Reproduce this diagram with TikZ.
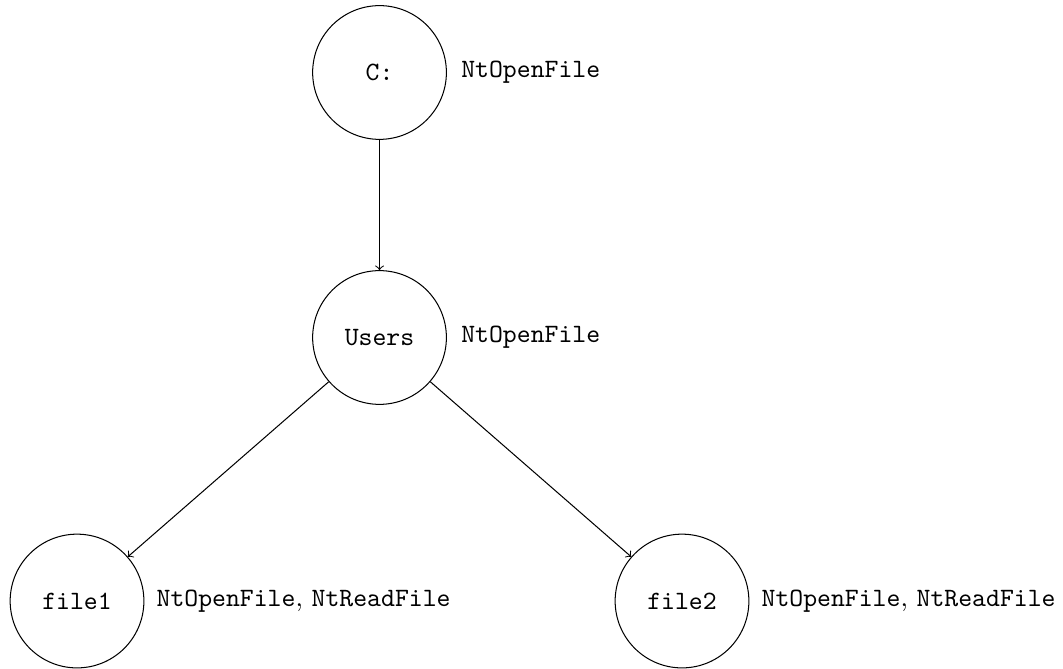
\documentclass[tikz,border=0pt]{standalone}
\usetikzlibrary{positioning}
\begin{document}
\begin{tikzpicture}[
  every node/.style={font=\fontsize{10.3pt}{12.4pt}\selectfont},
  fsnode/.style={circle, draw, minimum size=1.83cm, inner sep=0pt, font=\fontsize{10.3pt}{12.4pt}\selectfont\ttfamily},
  oplabel/.style={anchor=west, inner sep=0pt},
  conn/.style={->}
]
\useasboundingbox (0,0) rectangle (14.545,-9.154);
\node[fsnode] (c) at (5.193,-0.992) {C:};
\node[fsnode] (users) at (5.193,-4.618) {Users};
\node[fsnode] (f1) at (1.054,-8.224) {file1};
\node[fsnode] (f2) at (9.332,-8.224) {file2};
\node[oplabel, right=0.19cm of c] (lc) {\texttt{NtOpenFile}};
\node[oplabel, right=0.19cm of users] (lu) {\texttt{NtOpenFile}};
\node[oplabel, right=0.16cm of f1] (l1) {\texttt{NtOpenFile}, \texttt{NtReadFile}};
\node[oplabel, right=0.16cm of f2] (l2) {\texttt{NtOpenFile}, \texttt{NtReadFile}};
\draw[conn] (c) -- (users);
\draw[conn] (users) -- (f1);
\draw[conn] (users) -- (f2);
\end{tikzpicture}
\end{document}
